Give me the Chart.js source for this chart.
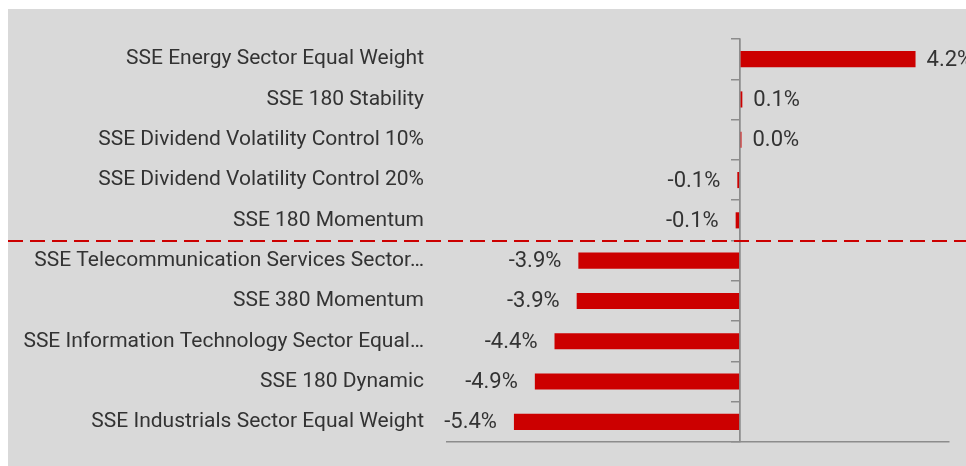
<!DOCTYPE html>
<html>
<head>
<meta charset="utf-8">
<script src="https://cdn.jsdelivr.net/npm/chart.js@4.4.1/dist/chart.umd.min.js"></script>
<style>
  html, body { margin: 0; padding: 0; background: #ffffff; }
  #wrap { position: absolute; left: 8px; top: 9px; width: 958px; height: 457px; background: #d9d9d9; }
</style>
</head>
<body>
<div id="wrap"><canvas id="chart" width="958" height="457"></canvas></div>
<script>
// index names, top to bottom
const categories = [
  "SSE Energy Sector Equal Weight",
  "SSE 180 Stability",
  "SSE Dividend Volatility Control 10%",
  "SSE Dividend Volatility Control 20%",
  "SSE 180 Momentum",
  "SSE Telecommunication Services Sector\u2026",
  "SSE 380 Momentum",
  "SSE Information Technology Sector Equal\u2026",
  "SSE 180 Dynamic",
  "SSE Industrials Sector Equal Weight"
];
// returns in %
const returns = [4.2, 0.06, 0.04, -0.06, -0.1, -3.86, -3.9, -4.43, -4.9, -5.4];
// hidden value axis range
const axisMin = -7;
const axisMax = 5;
// dashed separator sits after this many rows
const splitAfter = 5;

const RED = "#cc0000";
const AXIS = "#8c8c8c";
const TEXT = "#333333";
const FONT = "Roboto";

const valueLabels = {
  id: "valueLabels",
  afterDatasetsDraw(chart) {
    const ctx = chart.ctx;
    const meta = chart.getDatasetMeta(0);
    ctx.save();
    ctx.font = "22px " + FONT;
    ctx.fillStyle = TEXT;
    ctx.textBaseline = "middle";
    meta.data.forEach((bar, i) => {
      const v = returns[i];
      const txt = v.toFixed(1) + "%";
      if (v >= 0) {
        ctx.textAlign = "left";
        ctx.fillText(txt, bar.x + 11, bar.y + 1);
      } else {
        ctx.textAlign = "right";
        ctx.fillText(txt, bar.x - 17, bar.y + 1);
      }
    });
    ctx.restore();
  }
};

const splitLine = {
  id: "splitLine",
  afterDraw(chart) {
    const ctx = chart.ctx;
    const y = Math.round(chart.scales.y.getPixelForValue(splitAfter - 0.5));
    ctx.save();
    ctx.strokeStyle = RED;
    ctx.lineWidth = 2;
    ctx.setLineDash([15, 7]);
    ctx.beginPath();
    ctx.moveTo(0, y);
    ctx.lineTo(chart.width, y);
    ctx.stroke();
    ctx.restore();
  }
};

new Chart(document.getElementById("chart"), {
  type: "bar",
  data: {
    labels: categories,
    datasets: [{
      data: returns,
      backgroundColor: RED,
      borderWidth: 0,
      barPercentage: 0.4,
      categoryPercentage: 1
    }]
  },
  options: {
    indexAxis: "y",
    responsive: false,
    animation: false,
    layout: { padding: { left: 0, top: 30, right: 17, bottom: 24 } },
    plugins: { legend: { display: false }, tooltip: { enabled: false } },
    scales: {
      x: {
        min: axisMin,
        max: axisMax,
        ticks: { display: false, stepSize: 1 },
        grid: {
          drawTicks: false,
          color: (c) => (c.tick && c.tick.value === 0 ? AXIS : "transparent"),
          lineWidth: 1.5
        },
        border: { display: true, color: AXIS, width: 1.5 }
      },
      y: {
        grid: { display: false },
        border: { display: false },
        ticks: { color: TEXT, font: { family: FONT, size: 21 }, padding: 15 },
        afterFit: (scale) => {
          scale.width = 439;
          scale.paddingTop = 0;
          scale.paddingBottom = 0;
        }
      },
      yTicks: {
        type: "category",
        axis: "y",
        labels: categories,
        position: { x: 0 },
        offset: true,
        ticks: { display: false },
        grid: { offset: true, drawOnChartArea: false, drawTicks: true, tickLength: 8, color: AXIS, lineWidth: 1.5 },
        border: { display: true, color: AXIS, width: 1.5 }
      }
    }
  },
  plugins: [valueLabels, splitLine]
});
</script>
</body>
</html>
